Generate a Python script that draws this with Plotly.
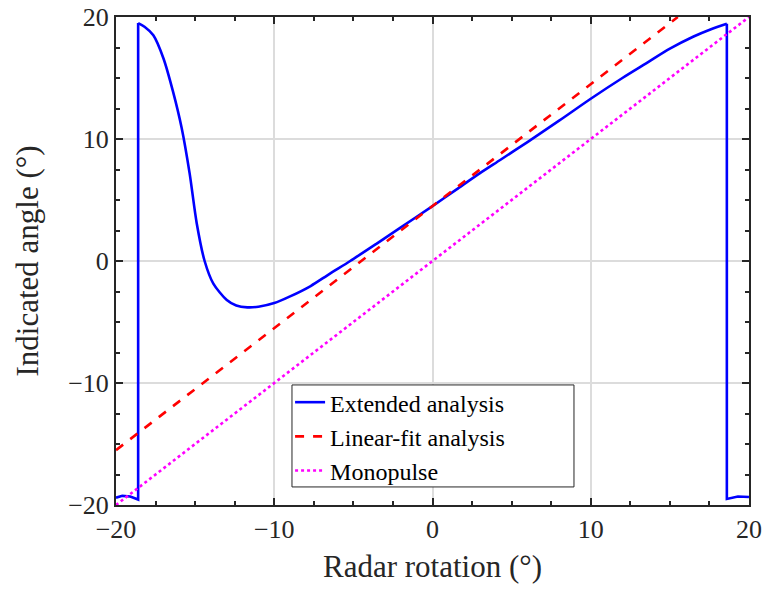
import plotly.graph_objects as go

# Extended analysis, split at the two wrap-around jumps (about +/-18.6 deg)
ext_left_x = [-20, -19.6, -19.1, -18.6, -18.6]
ext_left_y = [-19.4, -19.25, -19.3, -19.55, 19.5]

ext_mid_x = [-18.6, -18.2, -17.64, -17.0, -16.4, -15.85, -15.35, -14.9, -14.4, -13.85,
             -13.0, -12.4, -11.7, -11.0, -10.0, -9.0, -7.7, -6.5, -5.2, -3.5,
             -2.0, 0.0, 1.5, 3.0, 4.3, 6.0, 8.0, 10.0, 12.0, 13.5,
             15.0, 16.5, 17.6, 18.6]
ext_mid_y = [19.5, 19.2, 18.5, 16.6, 13.9, 10.9, 7.2, 3.1, 0.0, -1.85,
             -3.2, -3.65, -3.8, -3.75, -3.45, -2.9, -2.05, -1.05, 0.0, 1.45,
             2.75, 4.5, 5.85, 7.2, 8.3, 9.75, 11.5, 13.3, 15.0, 16.2,
             17.4, 18.4, 19.0, 19.45]

ext_right_x = [18.6, 18.6, 19.3, 20]
ext_right_y = [19.45, -19.5, -19.3, -19.35]

# Linear-fit analysis
fit_x = [-20, 15.5]
fit_y = [-15.5, 20]

# Monopulse
mono_x = [-20, 20]
mono_y = [-20, 20]

FONT = "Liberation Serif"
BLUE = dict(color='#0000ff', width=2.6)

fig = go.Figure()
fig.add_trace(go.Scatter(x=ext_mid_x, y=ext_mid_y, mode='lines', name='Extended analysis',
                         legendgroup='ext', line=dict(BLUE, shape='spline', smoothing=0.8)))
fig.add_trace(go.Scatter(x=ext_left_x, y=ext_left_y, mode='lines', legendgroup='ext',
                         showlegend=False, line=BLUE))
fig.add_trace(go.Scatter(x=ext_right_x, y=ext_right_y, mode='lines', legendgroup='ext',
                         showlegend=False, line=BLUE))
fig.add_trace(go.Scatter(x=fit_x, y=fit_y, mode='lines', name='Linear-fit analysis',
                         line=dict(color='#ff0000', width=2.6, dash='dash')))
fig.add_trace(go.Scatter(x=mono_x, y=mono_y, mode='lines', name='Monopulse',
                         line=dict(color='#ff00ff', width=2.6, dash='dot')))

axis_style = dict(
    range=[-20, 20], dtick=10, tick0=0, automargin=False,
    showgrid=True, gridcolor='#dcdcdc', gridwidth=2,
    zeroline=False, ticklabeloverflow='allow',
    showline=True, linecolor='#262626', linewidth=2, mirror='allticks',
    ticks='inside', ticklen=7, tickwidth=1.5, tickcolor='#262626',
    tickfont=dict(family=FONT, size=26, color='#262626'),
    minor=dict(dtick=2.5, ticks='inside', ticklen=4, tickcolor='#262626', showgrid=False),
)

# legend frame drawn as a shape so it can be wider than the entries
fig.add_shape(type='rect', xref='paper', yref='paper', x0=0.278, x1=0.7235, y0=0.037, y1=0.246,
              line=dict(color='#262626', width=1), fillcolor='white', layer='above')

fig.update_layout(
    width=762, height=599,
    margin=dict(l=116, r=13, t=17, b=94),
    plot_bgcolor='white', paper_bgcolor='white',
    font=dict(family=FONT, color='#262626'),
    xaxis=dict(axis_style, title=dict(text='Radar rotation (°)', font=dict(family=FONT, size=31), standoff=12)),
    yaxis=dict(axis_style, title=dict(text='Indicated angle (°)', font=dict(family=FONT, size=31), standoff=20)),
    legend=dict(x=0.275, y=0.256, xanchor='left', yanchor='top',
                bgcolor='rgba(0,0,0,0)', borderwidth=0,
                font=dict(family=FONT, size=24, color='black'),
                tracegroupgap=0, itemwidth=30),
    showlegend=True,
)

# drop the default 8px body margin so the figure fills the window
fig.write_html("out.html", config={'displayModeBar': False},
               post_script="document.body.style.margin='0';")
